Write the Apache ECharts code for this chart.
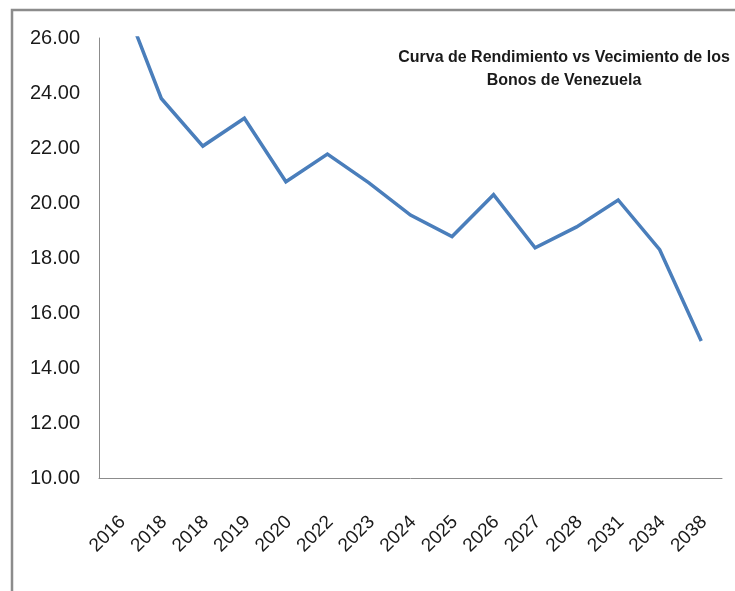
<!DOCTYPE html>
<html>
<head>
<meta charset="utf-8">
<script src="https://cdn.jsdelivr.net/npm/echarts@6/dist/echarts.min.js"></script>
<style>
html,body{margin:0;padding:0;background:#fff;}
#chart{width:735px;height:591px;}
</style>
</head>
<body>
<div id="chart"></div>
<script>
var categories = ['2016','2018','2018','2019','2020','2022','2023','2024','2025','2026','2027','2028','2031','2034','2038'];
var yields = [27.7, 23.8, 22.07, 23.08, 20.77, 21.78, 20.73, 19.56, 18.78, 20.3, 18.37, 19.13, 20.11, 18.3, 14.98];
var titleLines = ['Curva de Rendimiento vs Vecimiento de los', 'Bonos de Venezuela'];

var FONT = "'Liberation Sans', Arial, sans-serif";
var chart = echarts.init(document.getElementById('chart'), null, {renderer: 'canvas'});
chart.setOption({
  animation: false,
  backgroundColor: '#ffffff',
  title: {
    text: titleLines.join('\n'),
    left: 559,
    top: 41,
    textAlign: 'center',
    textStyle: {fontFamily: FONT, fontSize: 16, fontWeight: 'bold', color: '#1a1a1a', lineHeight: 23}
  },
  graphic: [{
    type: 'rect',
    shape: {x: 12, y: 10, width: 760, height: 620},
    style: {fill: 'none', stroke: '#8c8c8c', lineWidth: 2.5},
    silent: true
  }],
  grid: {left: 99, top: 38, right: 13, bottom: 113, containLabel: false},
  xAxis: {
    type: 'category',
    data: categories,
    boundaryGap: true,
    axisLine: {lineStyle: {color: '#8c8c8c', width: 1}},
    axisTick: {show: false},
    axisLabel: {rotate: 45, margin: 44, interval: 0, fontFamily: FONT, fontSize: 19, color: '#1a1a1a',
      padding: [0, -4, 0, 0]}
  },
  yAxis: {
    type: 'value',
    min: 10, max: 26, interval: 2,
    axisLine: {show: true, lineStyle: {color: '#8c8c8c', width: 1}},
    axisTick: {show: false},
    splitLine: {show: false},
    axisLabel: {margin: 19, fontFamily: FONT, fontSize: 20, color: '#1a1a1a',
      formatter: function (v) { return v.toFixed(2); }}
  },
  series: [{
    type: 'line',
    data: yields,
    symbol: 'none',
    clip: true,
    lineStyle: {color: '#4a7ebb', width: 3.5, join: 'miter'}
  }]
});
</script>
</body>
</html>
